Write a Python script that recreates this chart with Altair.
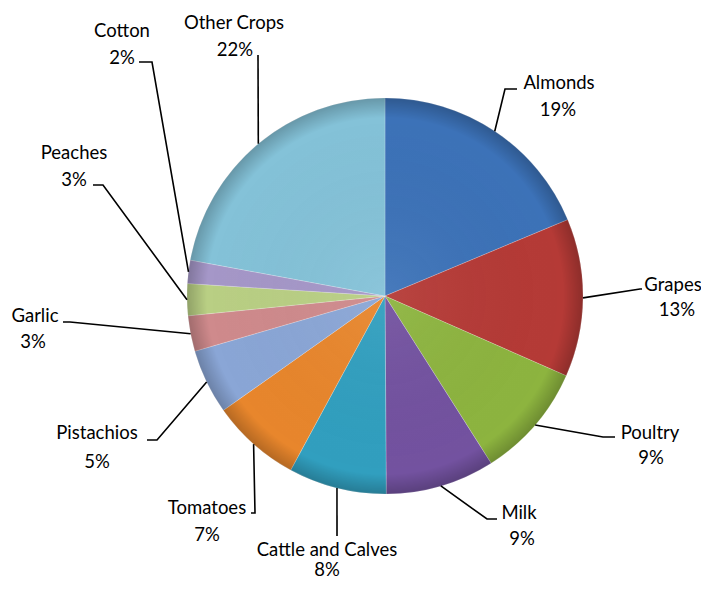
import math
import altair as alt
import pandas as pd

# ---- data ----
names = ["Almonds", "Grapes", "Poultry", "Milk", "Cattle and Calves", "Tomatoes",
         "Pistachios", "Garlic", "Peaches", "Cotton", "Other Crops"]
values = [18.7, 12.9, 9.4, 8.9, 8.0, 7.3, 5.3, 2.9, 2.6, 1.9, 22.1]
pct_labels = ["19%", "13%", "9%", "9%", "8%", "7%", "5%", "3%", "3%", "2%", "22%"]

# ---- style / layout ----
colors = ["#3c72b8", "#b53a36", "#8db43f", "#7352a0", "#319fbf", "#e8862c",
          "#8aa6d6", "#cf8a8c", "#b9cf84", "#a597c8", "#84c2d8"]
W, H = 693, 574
CX, CY, R = 385, 296, 198          # pie centre / radius in page pixels
FONT = "Lato"
FS = 18.5
# label layout (page pixels): name centre, pct centre, leader elbow, leader end
name_pos = [(559, 83), (673, 285), (650, 433), (519, 513), (327, 550), (207, 508),
            (97, 433), (35, 316), (74, 153), (122, 31), (234, 23)]
pct_pos = [(558, 110), (677, 310), (651, 458), (522, 539), (327, 570), (207, 535),
           (97, 462), (33, 342), (74, 180), (122, 58), (235, 50)]
elbow = [(505, 89), (640, 289), (603, 437), (487, 519), (337, 536), (255, 513),
         (157, 440), (70, 322), (103, 185), (152, 62), (258, 55)]
end = [(517, 89), (642, 289), (615, 437), (497, 519), (337, 536), (251, 513),
       (147, 440), (63, 322), (93, 185), (139, 62), (258, 55)]

df = pd.DataFrame({"name": names, "value": values, "idx": range(len(names))})

# leader lines start on the pie edge at each slice's mid-angle
total = sum(values)
rows = []
cum = 0.0
for i, v in enumerate(values):
    mid = (cum + v / 2) / total * 2 * math.pi
    cum += v
    sx = CX + R * math.sin(mid)
    sy = CY - R * math.cos(mid)
    for k, (px, py) in enumerate([(sx, sy), elbow[i], end[i]]):
        rows.append({"name": names[i], "k": k, "x": px, "y": py})
lead = pd.DataFrame(rows)

lab = pd.DataFrame({
    "name": names, "pct": pct_labels,
    "nx": [p[0] for p in name_pos], "ny": [p[1] for p in name_pos],
    "px": [p[0] for p in pct_pos], "py": [p[1] for p in pct_pos],
})

xs = alt.Scale(domain=[8, 8 + W], range=[0, W], nice=False, zero=False)
ys = alt.Scale(domain=[8, 8 + H], range=[0, H], nice=False, zero=False)

pie = alt.Chart(df).mark_arc(radius=R, stroke="#ffffff", strokeWidth=0.6, strokeOpacity=0.35).encode(
    theta=alt.Theta("value:Q", stack=True),
    order=alt.Order("idx:Q"),
    color=alt.Color("name:N", scale=alt.Scale(domain=names, range=colors), legend=None),
    x=alt.value(CX - 8), y=alt.value(CY - 8),
)

shade = alt.Chart(pd.DataFrame({"a": [0]})).mark_arc(
    radius=R, theta=0, theta2=2 * math.pi,
    fill=alt.Gradient(gradient="radial", x1=0.5, y1=0.5, x2=0.5, y2=0.5, r1=0, r2=0.5,
                      stops=[alt.GradientStop(offset=0, color="rgba(255,255,255,0.06)"),
                             alt.GradientStop(offset=0.9, color="rgba(0,0,0,0)"),
                             alt.GradientStop(offset=1, color="rgba(0,0,0,0.22)")]),
).encode(x=alt.value(CX - 8), y=alt.value(CY - 8))

lines = alt.Chart(lead).mark_line(color="#000000", strokeWidth=1.6).encode(
    x=alt.X("x:Q", scale=xs, axis=None),
    y=alt.Y("y:Q", scale=ys, axis=None),
    detail="name:N",
    order="k:Q",
)

tname = alt.Chart(lab).mark_text(font=FONT, fontSize=FS, color="#000000", align="center", baseline="middle").encode(
    x=alt.X("nx:Q", scale=xs, axis=None), y=alt.Y("ny:Q", scale=ys, axis=None), text="name:N")
tpct = alt.Chart(lab).mark_text(font=FONT, fontSize=FS, color="#000000", align="center", baseline="middle").encode(
    x=alt.X("px:Q", scale=xs, axis=None), y=alt.Y("py:Q", scale=ys, axis=None), text="pct:N")

chart = alt.layer(pie, shade, lines, tname, tpct).properties(
    width=W, height=H, autosize=alt.AutoSizeParams(type="none"), padding=0
).configure(background="#ffffff").configure_view(stroke=None)

chart.save("out.html", embed_options={"renderer": "svg", "actions": False})
